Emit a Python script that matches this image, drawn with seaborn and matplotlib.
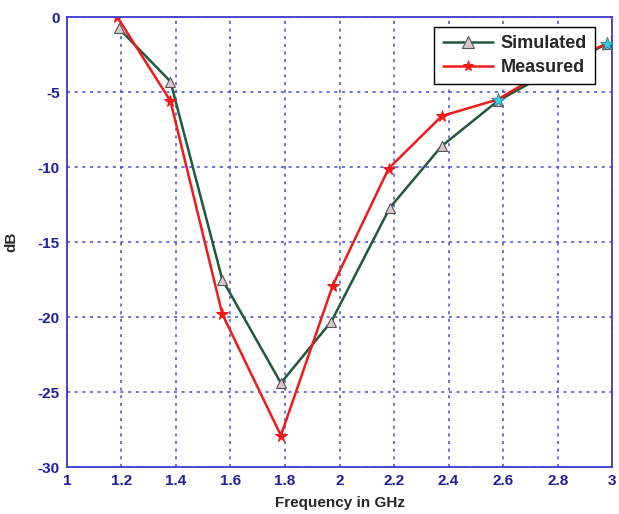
"""Return loss comparison: simulated vs measured."""

import matplotlib

matplotlib.use("Agg")

import matplotlib.pyplot as plt
import pandas as pd
import seaborn as sns

# values
sim_freq = [1.19, 1.38, 1.57, 1.785, 1.97, 2.185, 2.375, 2.58, 2.8, 2.98]
sim_db = [-0.75, -4.3, -17.5, -24.4, -20.3, -12.7, -8.6, -5.6, -3.4, -1.8]
meas_freq = [1.185, 1.38, 1.57, 1.785, 1.975, 2.18, 2.375, 2.58, 2.8, 2.98]
meas_db = [0.0, -5.6, -19.8, -27.9, -17.9, -10.1, -6.6, -5.5, -3.1, -1.8]
highlight_freq = [2.58, 2.98]
highlight_db = [-5.5, -1.8]

x_ticks = [1, 1.2, 1.4, 1.6, 1.8, 2, 2.2, 2.4, 2.6, 2.8, 3]
x_tick_labels = ["1", "1.2", "1.4", "1.6", "1.8", "2", "2.2", "2.4", "2.6", "2.8", "3"]
y_ticks = [0, -5, -10, -15, -20, -25, -30]

sns.set_style("white")
plt.rcParams["font.family"] = ["Liberation Sans", "DejaVu Sans"]
plt.rcParams["axes.unicode_minus"] = False

colors = {"Simulated": "#1f5a3c", "Measured": "#f01a1a"}

df = pd.concat(
    [
        pd.DataFrame({"freq": sim_freq, "db": sim_db, "series": "Simulated"}),
        pd.DataFrame({"freq": meas_freq, "db": meas_db, "series": "Measured"}),
    ],
    ignore_index=True,
)

fig = plt.figure(figsize=(6.19, 5.14), dpi=100)
ax = fig.add_axes([0.108, 0.0914, 0.881, 0.8755])

grid_color = "#4a4ad0"
ax.set_xlim(1, 3)
ax.set_ylim(-30, 0)
ax.set_xticks(x_ticks)
ax.set_xticklabels(x_tick_labels)
ax.set_yticks(y_ticks)
ax.grid(True, color=grid_color, linestyle=(0, (2, 3)), linewidth=1.1)
ax.set_axisbelow(True)

sns.lineplot(
    data=df,
    x="freq",
    y="db",
    hue="series",
    style="series",
    palette=colors,
    markers={"Simulated": "^", "Measured": "*"},
    dashes=False,
    sort=False,
    linewidth=1.8,
    ax=ax,
)
for line in ax.lines:
    if line.get_color() == colors["Simulated"]:
        line.set_markersize(7)
        line.set_markerfacecolor("#d8c8cc")
        line.set_markeredgecolor("#555555")
        line.set_markeredgewidth(0.8)
    elif line.get_color() == colors["Measured"]:
        line.set_markersize(8.5)
        line.set_markerfacecolor(colors["Measured"])
        line.set_markeredgecolor(colors["Measured"])

sns.scatterplot(
    x=highlight_freq, y=highlight_db, marker="*", s=110,
    color="#33d0e0", edgecolor="#208090", linewidth=0.5, zorder=5, ax=ax,
)

for spine in ax.spines.values():
    spine.set_color("#3c3cd0")
    spine.set_linewidth(1.3)

ax.tick_params(axis="both", colors="#1e1e9a", labelsize=11, length=0, pad=5)
for lbl in ax.get_xticklabels() + ax.get_yticklabels():
    lbl.set_fontweight("bold")

ax.set_xlabel("Frequency in GHz", fontsize=11, fontweight="bold", labelpad=6)
ax.set_ylabel("dB", fontsize=11, fontweight="bold", labelpad=14)

leg = ax.legend(
    loc="upper right",
    bbox_to_anchor=(0.968, 0.978),
    borderaxespad=0,
    title=None,
    frameon=True,
    fancybox=False,
    edgecolor="black",
    framealpha=1,
    prop={"weight": "bold", "size": 13},
    handlelength=2.8,
    borderpad=0.45,
    labelspacing=0.4,
    handletextpad=0.4,
)
leg.get_frame().set_linewidth(1.0)
for h in leg.legend_handles:
    h.set_markersize(8)

fig.savefig("out.png", dpi=100)
